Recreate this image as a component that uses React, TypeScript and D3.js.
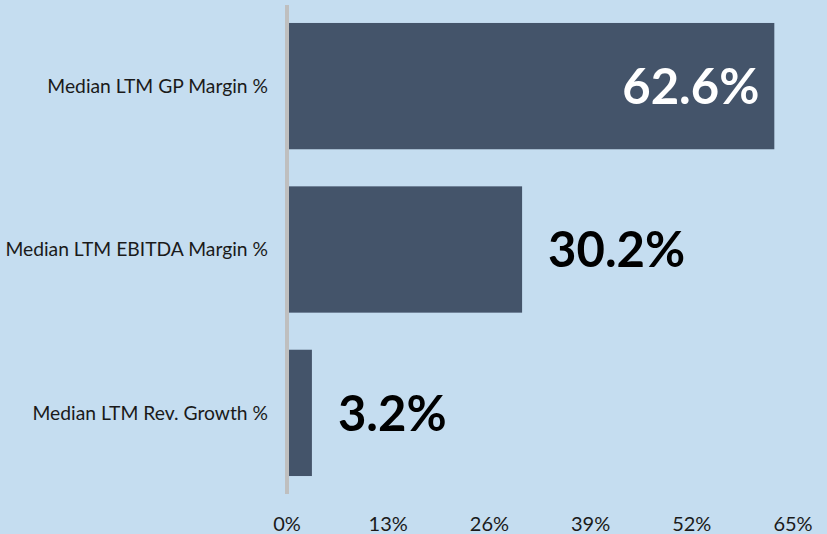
import { useMemo } from "react";
import * as d3 from "d3";

const W = 827;
const H = 534;

const categories = ["Median LTM GP Margin %", "Median LTM EBITDA Margin %", "Median LTM Rev. Growth %"];
const values = [62.6, 30.2, 3.2];
const tickValues = [0, 13, 26, 39, 52, 65];

const FONT = "Lato, 'Open Sans', sans-serif";

export default function App() {
  const x = useMemo(() => d3.scaleLinear().domain([0, 65]).range([287, 793]), []);
  const y = useMemo(
    () => d3.scaleBand<string>().domain(categories).range([5, 494]).paddingInner(0.227).paddingOuter(0.11),
    []
  );

  return (
    <svg
      width={W}
      height={H}
      style={{ position: "absolute", left: 0, top: 0, display: "block" }}
    >
      <rect width={W} height={H} fill="#c5ddf0" />
      {categories.map((c, i) => {
        const yy = y(c)!;
        const bw = y.bandwidth();
        const inside = i === 0;
        return (
          <g key={c}>
            <rect x={x(0) + 2} y={yy} width={x(values[i]) - x(0) - 2} height={bw} fill="#44546a" />
            <text
              x={268}
              y={yy + bw / 2}
              dy="0.35em"
              textAnchor="end"
              fontFamily={FONT}
              fontSize={19.3}
              fill="#1a1a1a"
            >
              {c}
            </text>
            <text
              x={inside ? x(values[i]) - 15 : x(values[i]) + 26}
              y={yy + bw / 2}
              dy="0.36em"
              textAnchor={inside ? "end" : "start"}
              fontFamily={FONT}
              fontWeight="bold"
              fontSize={49}
              fill={inside ? "#ffffff" : "#000000"}
            >
              {values[i].toFixed(1) + "%"}
            </text>
          </g>
        );
      })}
      <line x1={x(0)} x2={x(0)} y1={5} y2={494} stroke="#bfbfbf" strokeWidth={4} />
      {tickValues.map((t) => (
        <text
          key={t}
          x={x(t)}
          y={531}
          textAnchor="middle"
          fontFamily={FONT}
          fontSize={20}
          fill="#1a1a1a"
        >
          {t + "%"}
        </text>
      ))}
    </svg>
  );
}
